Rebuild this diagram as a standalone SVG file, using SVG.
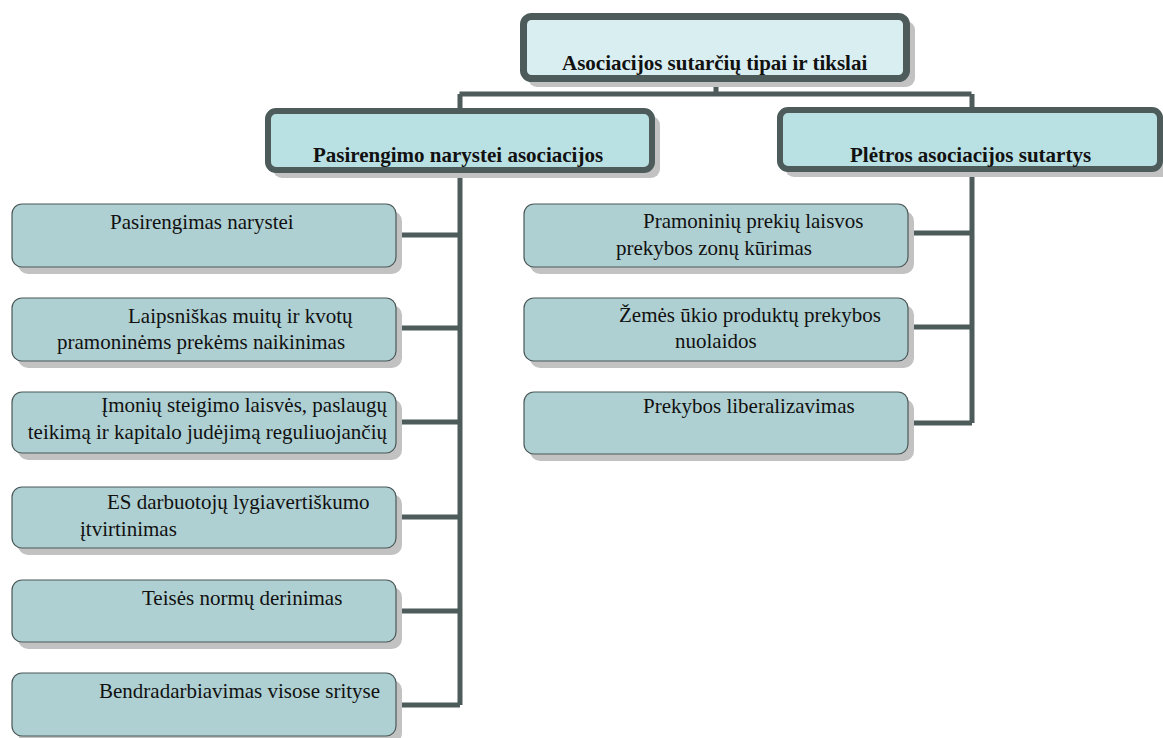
<svg xmlns="http://www.w3.org/2000/svg" width="1163" height="738" viewBox="0 0 1163 738">
<style>
.conn{fill:none;stroke:#4d5b5b;stroke-width:5;stroke-linecap:butt;stroke-linejoin:miter}
.shadow{fill:#c2c2c2}
.leaf{fill:#afd0d2;stroke:#4a5858;stroke-width:1.2}
.head{fill:#b9e0e3;stroke:#4d5b5b;stroke-width:6}
.top{fill:#d9eef0;stroke:#4d5b5b;stroke-width:7}
.t{font-family:"Liberation Serif","Times New Roman",serif;font-size:21px;fill:#111}
.b{font-family:"Liberation Serif","Times New Roman",serif;font-size:21px;font-weight:bold;fill:#111}
</style>
<rect width="1163" height="738" fill="#fff"/>
<g id="connectors">
<path class="conn" d="M716,82 V94 M459.5,94 H971.5 M460,94 V705 M972,94 V423"/>
<path class="conn" d="M396,235 H460 M396,328 H460 M396,422 H460 M396,517 H460 M396,611 H460 M396,705 H460"/>
<path class="conn" d="M908,233 H972 M908,327 H972 M908,423 H972"/>
</g>
<g id="n-top">
<rect class="shadow" x="528" y="21" width="387" height="66" rx="9"/>
<rect class="top" x="523.5" y="16.5" width="383" height="62" rx="8"/>
<text class="b" x="562" y="70">Asociacijos sutarčių tipai ir tikslai</text>
</g>
<g id="n-left">
<rect class="shadow" x="273" y="116" width="387" height="62" rx="9"/>
<rect class="head" x="268" y="111" width="384" height="59" rx="8"/>
<text class="b" x="313" y="162">Pasirengimo narystei asociacijos</text>
</g>
<g id="n-right">
<rect class="shadow" x="785" y="115" width="387" height="62" rx="9"/>
<rect class="head" x="780" y="110" width="380" height="59" rx="8"/>
<text class="b" x="850" y="162">Plėtros asociacijos sutartys</text>
</g>
<g id="l1">
<rect class="shadow" x="18" y="211" width="384" height="63" rx="10"/>
<rect class="leaf" x="12" y="204" width="384" height="63" rx="10"/>
<text class="t" x="110" y="229">Pasirengimas narystei</text>
</g>
<g id="l2">
<rect class="shadow" x="18" y="305" width="384" height="63" rx="10"/>
<rect class="leaf" x="12" y="298" width="384" height="63" rx="10"/>
<text class="t" x="128" y="323">Laipsniškas muitų ir kvotų</text>
<text class="t" x="57" y="349">pramoninėms prekėms naikinimas</text>
</g>
<g id="l3">
<rect class="shadow" x="18" y="399" width="384" height="61" rx="10"/>
<rect class="leaf" x="12" y="392" width="384" height="61" rx="10"/>
<text class="t" x="387" y="412" text-anchor="end">Įmonių steigimo laisvės, paslaugų</text>
<text class="t" x="387" y="439" text-anchor="end">teikimą ir kapitalo judėjimą reguliuojančių</text>
</g>
<g id="l4">
<rect class="shadow" x="18" y="494" width="384" height="61" rx="10"/>
<rect class="leaf" x="12" y="487" width="384" height="61" rx="10"/>
<text class="t" x="107" y="509">ES darbuotojų lygiavertiškumo</text>
<text class="t" x="80" y="536">įtvirtinimas</text>
</g>
<g id="l5">
<rect class="shadow" x="18" y="587" width="384" height="62" rx="10"/>
<rect class="leaf" x="12" y="580" width="384" height="62" rx="10"/>
<text class="t" x="142" y="605">Teisės normų derinimas</text>
</g>
<g id="l6">
<rect class="shadow" x="18" y="680" width="384" height="63" rx="10"/>
<rect class="leaf" x="12" y="673" width="384" height="63" rx="10"/>
<text class="t" x="99" y="698">Bendradarbiavimas visose srityse</text>
</g>
<g id="r1">
<rect class="shadow" x="530" y="211" width="384" height="63" rx="10"/>
<rect class="leaf" x="524" y="204" width="384" height="63" rx="10"/>
<text class="t" x="643" y="228">Pramoninių prekių laisvos</text>
<text class="t" x="616" y="255">prekybos zonų kūrimas</text>
</g>
<g id="r2">
<rect class="shadow" x="530" y="305" width="384" height="63" rx="10"/>
<rect class="leaf" x="524" y="298" width="384" height="63" rx="10"/>
<text class="t" x="619" y="322">Žemės ūkio produktų prekybos</text>
<text class="t" x="675" y="348">nuolaidos</text>
</g>
<g id="r3">
<rect class="shadow" x="530" y="399" width="384" height="62" rx="10"/>
<rect class="leaf" x="524" y="392" width="384" height="62" rx="10"/>
<text class="t" x="643" y="413">Prekybos liberalizavimas</text>
</g>
</svg>
